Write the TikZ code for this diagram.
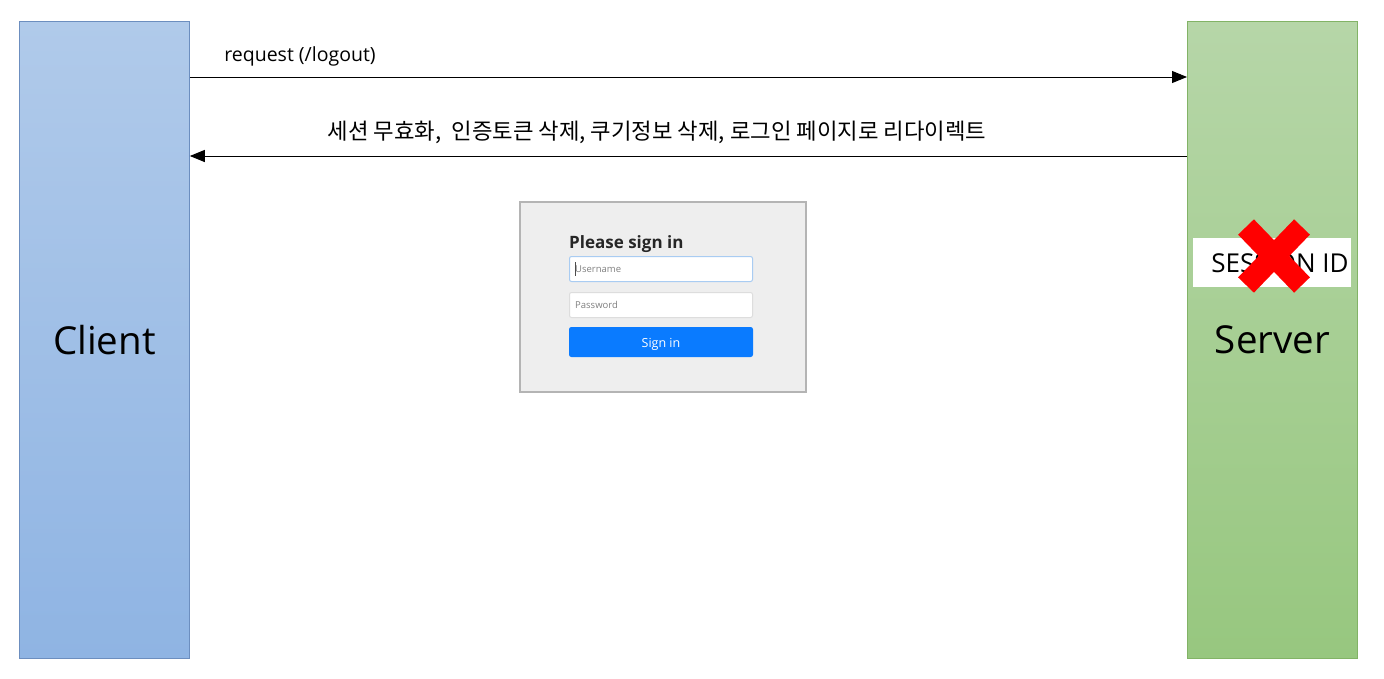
\documentclass[tikz,border=0pt]{standalone}
\usepackage{fontspec}
\setmainfont{Open Sans}
\newfontfamily\kr{Noto Sans CJK KR}
\usetikzlibrary{arrows.meta}
\definecolor{cliTop}{HTML}{B0CAEA}
\definecolor{cliBot}{HTML}{8FB4E3}
\definecolor{cliLine}{HTML}{6C8EBF}
\definecolor{srvTop}{HTML}{B6D6A8}
\definecolor{srvBot}{HTML}{97C77F}
\definecolor{srvLine}{HTML}{82B366}
\definecolor{panelFill}{HTML}{EEEEEE}
\definecolor{panelLine}{HTML}{B4B4B4}
\definecolor{userLine}{HTML}{A9CCF2}
\definecolor{passLine}{HTML}{DDDDDD}
\definecolor{btnBlue}{HTML}{0A7BFF}
\definecolor{xred}{HTML}{FF0000}
\tikzset{
  actor/.style={draw, line width=0.8pt, minimum width=170pt, minimum height=637pt,
    inner sep=0pt, anchor=north west, font=\fontsize{38.5}{46}\selectfont},
  msg/.style={line width=1pt, -{Triangle[length=15pt,width=12pt]}},
  field/.style={draw, fill=white, rounded corners=2pt, line width=1pt,
    minimum width=183pt, minimum height=25pt, anchor=north west, inner sep=0pt},
  hint/.style={font=\fontsize{9.5}{11}\selectfont, text=black!50},
  xbar/.style={draw=xred, line width=22pt, line cap=butt},
}
\begin{document}
\begin{tikzpicture}[x=1pt,y=-1pt]
\useasboundingbox (0,0) rectangle (1384,678);
\fill[white] (0,0) rectangle (1384,678);
% actors
\node[actor, draw=cliLine, top color=cliTop, bottom color=cliBot] (client) at (19,21) {Client};
\node[actor, draw=srvLine, top color=srvTop, bottom color=srvBot] (server) at (1187,21) {Server};
% messages
\coordinate (c1) at (client.east |- 0,77);
\coordinate (s1) at (server.west |- 0,77);
\coordinate (c2) at (client.east |- 0,156);
\coordinate (s2) at (server.west |- 0,156);
\draw[msg] (c1) -- (s1);
\draw[msg] (s2) -- (c2);
\node[font=\fontsize{19.5}{23}\selectfont] (req) at (300,56) {request (/logout)};
\node[font=\kr\fontsize{22.3}{26}\selectfont] (resp) at (657,132) {세션 무효화,\ \ 인증토큰 삭제, 쿠기정보 삭제, 로그인 페이지로 리다이렉트};
% sign-in panel
\node[draw=panelLine, fill=panelFill, line width=1.6pt, minimum width=286pt, minimum height=190pt,
  anchor=north west, inner sep=0pt] (panel) at (519,201) {};
\node[anchor=base west, inner sep=0pt, font=\bfseries\fontsize{17}{21}\selectfont, text=black!85] (title) at (569,248) {Please sign in};
\node[field, draw=userLine] (user) at (569,256) {};
\node[hint, anchor=west, inner sep=0pt] (userT) at (575,269) {Username};
\draw[black!70, line width=0.6pt] (575.5,262) -- (575.5,276);
\node[field, draw=passLine] (pass) at (569,292) {};
\node[hint, anchor=west, inner sep=0pt] (passT) at (575,305) {Password};
\node[field, draw=btnBlue, fill=btnBlue, minimum height=29pt] (btn) at (569,327) {};
\node[text=white, font=\fontsize{12.5}{15}\selectfont, inner sep=0pt] (btnT) at ([yshift=-2pt]btn.center) {Sign in};
% session id
\node[fill=white, minimum width=158pt, minimum height=49pt, inner sep=0pt] (sid) at (1272,262.5) {};
\node[font=\fontsize{26}{30}\selectfont, inner sep=0pt] (sidT) at (1280,263.5) {SESSION ID};
\draw[xbar] (1246,227) -- (1302,285);
\draw[xbar] (1302,227) -- (1246,285);
\end{tikzpicture}
\end{document}
